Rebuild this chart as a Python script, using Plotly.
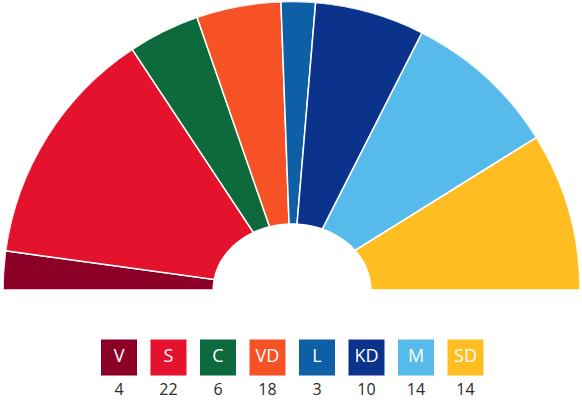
import math
import plotly.graph_objects as go

# parties, left to right
parties = ["V", "S", "C", "VD", "L", "KD", "M", "SD"]
seats = [4, 22, 6, 18, 3, 10, 14, 14]
# arc sizes as drawn (degrees of the half circle)
arc_deg = [7.8, 48.7, 14.4, 17.0, 6.9, 22.1, 31.2, 31.9]
colors = ["#8C0027", "#E5122E", "#0C6A3C", "#F65226", "#0E5FA6",
          "#0B338C", "#56BBEA", "#FEBE22"]

W, H = 582, 400

# centres of each arc, going clockwise from the left
theta_c = []
start = 180.0
for w in arc_deg:
    theta_c.append(start - w / 2)
    start = start - w

fig = go.Figure()

fig.add_trace(go.Barpolar(
    r=[1] * len(parties), theta=theta_c, width=arc_deg, base=0,
    marker=dict(color=colors, line=dict(color="white", width=1.5)),
    hoverinfo="skip", showlegend=False))

# legend boxes and seat numbers
idx = list(range(len(parties)))
fig.add_trace(go.Scatter(
    x=idx, y=[0] * len(idx), mode="markers+text", text=parties,
    textposition="middle center",
    textfont=dict(color="white", size=18, family="Open Sans"),
    marker=dict(symbol="square", size=36, color=colors, line=dict(width=0)),
    hoverinfo="skip", showlegend=False, cliponaxis=False))
fig.add_trace(go.Scatter(
    x=idx, y=[-1] * len(idx), mode="text", text=[str(s) for s in seats],
    textposition="middle center",
    textfont=dict(color="#2a2a2a", size=16, family="Open Sans"),
    hoverinfo="skip", showlegend=False, cliponaxis=False))

# the centre hole is a slightly squashed half ellipse, so mask it in white
cx, cy, ax, by = 292.0, 290.0, 79.5, 66.7
pts = [(cx + ax, cy + 1)]
for a in range(0, 181, 2):
    t = math.radians(a)
    pts.append((cx + ax * math.cos(t), cy - by * math.sin(t)))
pts.append((cx - ax, cy + 1))
path = "M " + " L ".join("%.5f,%.5f" % (x / W, 1 - y / H) for x, y in pts) + " Z"

fig.update_layout(
    width=W, height=H,
    margin=dict(l=0, r=0, t=0, b=0),
    paper_bgcolor="white", plot_bgcolor="rgba(0,0,0,0)",
    showlegend=False, hovermode=False,
    polar=dict(
        domain=dict(x=[3 / W, 580 / W], y=[0.275, 0.99625]),
        sector=[0, 180], hole=0.2, bargap=0, bgcolor="white",
        radialaxis=dict(visible=False, range=[0, 1]),
        angularaxis=dict(visible=False, direction="counterclockwise", rotation=0),
    ),
    xaxis=dict(range=[-119 / 49.5, (W - 119) / 49.5], domain=[0, 1],
               visible=False, fixedrange=True),
    yaxis=dict(range=[-1.269, 1.119], domain=[0, 0.2],
               visible=False, fixedrange=True),
    shapes=[dict(type="path", xref="paper", yref="paper", path=path,
                 fillcolor="white", line=dict(width=0), layer="above")],
)

# drop the browser's default page margin so the chart sits at 0,0
fig.write_html("out.html", config={"displayModeBar": False},
               post_script="document.body.style.margin='0';")
